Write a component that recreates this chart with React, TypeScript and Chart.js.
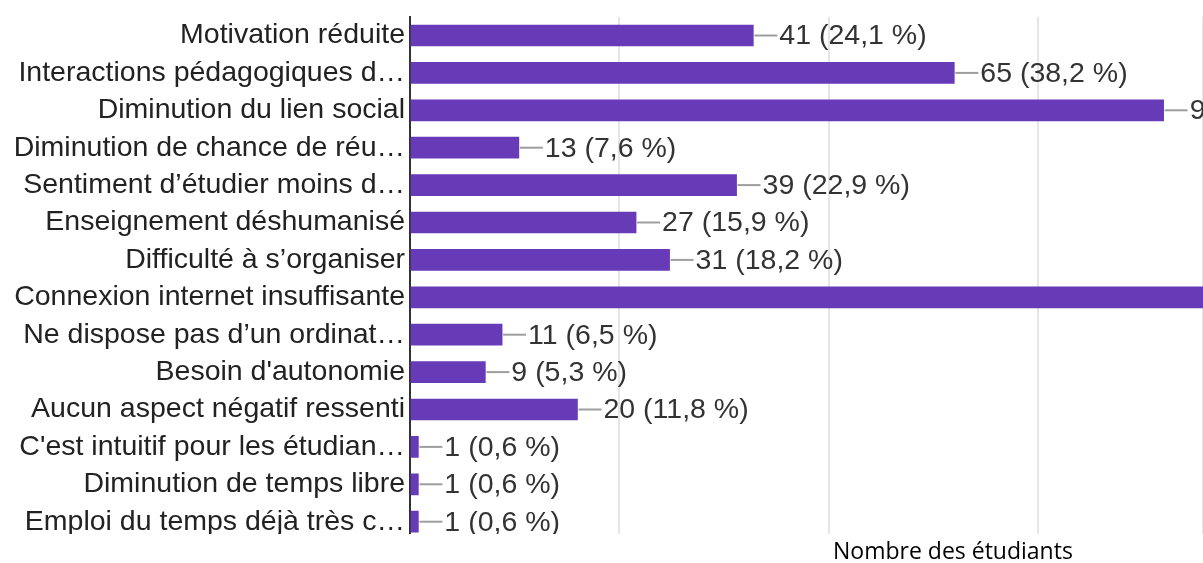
import React, { useEffect, useRef } from "react";
import { Chart, registerables } from "chart.js";

Chart.register(...registerables);

const categories = [
  "Motivation réduite",
  "Interactions pédagogiques d…",
  "Diminution du lien social",
  "Diminution de chance de réu…",
  "Sentiment d’étudier moins d…",
  "Enseignement déshumanisé",
  "Difficulté à s’organiser",
  "Connexion internet insuffisante",
  "Ne dispose pas d’un ordinat…",
  "Besoin d'autonomie",
  "Aucun aspect négatif ressenti",
  "C'est intuitif pour les étudian…",
  "Diminution de temps libre",
  "Emploi du temps déjà très c…",
];

const counts = [41, 65, 90, 13, 39, 27, 31, 112, 11, 9, 20, 1, 1, 1];
const percents = [
  "24,1 %", "38,2 %", "52,9 %", "7,6 %", "22,9 %", "15,9 %", "18,2 %",
  "65,9 %", "6,5 %", "5,3 %", "11,8 %", "0,6 %", "0,6 %", "0,6 %",
];
const xTitle = "Nombre des étudiants";

const BAR = "#673ab7";
const LABEL_FONT = "28.5px 'Liberation Sans', Arial, sans-serif";

const valueLabels = {
  id: "valueLabels",
  afterDatasetsDraw(chart: any) {
    const ctx = chart.ctx;
    const meta = chart.getDatasetMeta(0);
    ctx.save();
    meta.data.forEach((el: any, i: number) => {
      const x = el.x;
      const y = el.y;
      ctx.strokeStyle = "#9e9e9e";
      ctx.lineWidth = 2;
      ctx.beginPath();
      ctx.moveTo(x + 1, y);
      ctx.lineTo(x + 24, y);
      ctx.stroke();
      ctx.fillStyle = "#333333";
      ctx.font = LABEL_FONT;
      ctx.textAlign = "left";
      ctx.textBaseline = "middle";
      ctx.fillText(`${counts[i]} (${percents[i]})`, x + 26, y + 1);
    });
    ctx.restore();
  },
};

const cropAndTitle = {
  id: "cropAndTitle",
  afterDraw(chart: any) {
    const ctx = chart.ctx;
    ctx.save();
    ctx.fillStyle = "#ffffff";
    ctx.fillRect(0, 534, chart.width, chart.height - 534);
    ctx.fillStyle = "#000000";
    ctx.font = "23px 'Open Sans', sans-serif";
    ctx.textAlign = "left";
    ctx.textBaseline = "alphabetic";
    ctx.fillText(xTitle, 833, 559);
    ctx.restore();
  },
};

export default function App() {
  const ref = useRef<HTMLCanvasElement | null>(null);
  useEffect(() => {
    if (!ref.current) return;
    const chart = new Chart(ref.current, {
      type: "bar",
      data: {
        labels: categories,
        datasets: [
          {
            data: counts,
            backgroundColor: BAR,
            borderWidth: 0,
            barThickness: 21,
          },
        ],
      },
      options: {
        indexAxis: "y",
        responsive: false,
        animation: false,
        layout: { padding: { top: 16.8, bottom: 22.6, left: 0, right: 0 } },
        plugins: {
          legend: { display: false },
          tooltip: { enabled: false },
          title: { display: false },
        },
        scales: {
          x: {
            min: 0,
            max: 94.7,
            ticks: { display: false, stepSize: 25 },
            grid: {
              drawTicks: false,
              color: (c: any) => (c.tick && c.tick.value === 0 ? "rgba(0,0,0,0)" : "#e6e6e6"),
              lineWidth: 2,
            },
            border: { display: false },
            afterFit: (s: any) => {
              s.height = 0;
              s.paddingLeft = 0;
              s.paddingRight = 0;
            },
          },
          y: {
            ticks: {
              autoSkip: false,
              padding: 5,
              color: "#222222",
              font: { family: "'Liberation Sans', Arial, sans-serif", size: 28.5 },
            },
            grid: { display: false, drawTicks: false },
            border: { display: true, color: "#333333", width: 2 },
            afterFit: (s: any) => {
              s.width = 410;
              s.paddingTop = 0;
              s.paddingBottom = 0;
            },
          },
        },
      },
      plugins: [valueLabels, cropAndTitle],
    });
    return () => chart.destroy();
  }, []);
  return (
    <div style={{ position: "fixed", left: 0, top: 0, width: 1203, height: 563, background: "#fff" }}>
      <canvas ref={ref} width={1203} height={563} />
    </div>
  );
}
